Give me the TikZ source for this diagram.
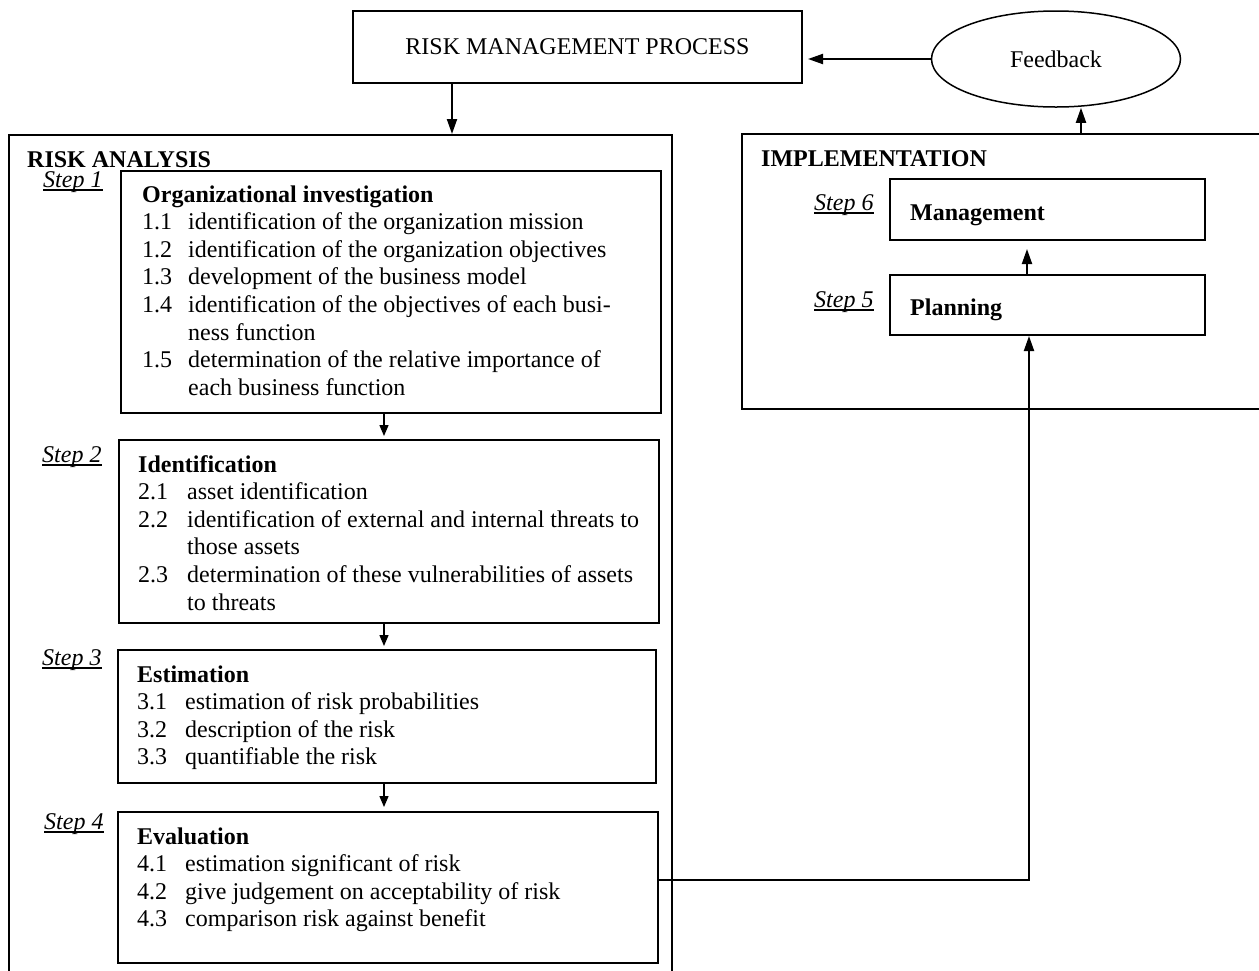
\documentclass[tikz,border=0pt]{standalone}
\usepackage{fontspec}
\setmainfont{Liberation Serif}
\usetikzlibrary{arrows.meta,shapes.geometric,calc}
\begin{document}
\begin{tikzpicture}[x=1pt,y=-1pt,
  box/.style={draw,line width=2pt,rectangle,inner sep=0pt,anchor=north west},
  frame/.style={draw,line width=1.5pt,rectangle,inner sep=0pt,anchor=north west},
  txt/.style={inner sep=0pt,anchor=base west,font=\fontsize{24}{27.6}\selectfont},
  hd/.style={inner sep=0pt,anchor=base west,font=\fontsize{24}{27.6}\selectfont\bfseries},
  stp/.style={inner sep=0pt,anchor=base west,font=\fontsize{24}{27.6}\selectfont\itshape},
  uline/.style={line width=1.3pt},
  arr/.style={line width=2pt,-{Triangle[length=15pt,width=10pt]}},
  sarr/.style={line width=1.3pt,-{Triangle[length=11pt,width=9pt]}},
]
\useasboundingbox (0,0) rectangle (1259,970);
\clip (0,0) rectangle (1259,970);

% top
\node[draw,line width=2pt,rectangle,inner sep=0pt,minimum width=449pt,minimum height=72pt,
      font=\fontsize{24}{27.6}\selectfont] (rmp) at (577.5,47) {RISK MANAGEMENT PROCESS};
\node[draw,line width=1.5pt,ellipse,inner sep=0pt,minimum width=249pt,minimum height=96pt,
      font=\fontsize{24}{27.6}\selectfont] (fb) at (1056,59) {Feedback};

% frames
\node[frame,minimum width=663pt,minimum height=900pt] (ra) at (8,134) {};
\node[hd] (ral) at (27,167) {RISK ANALYSIS};
\node[frame,minimum width=540pt,minimum height=275pt] (impl) at (741,133) {};
\node[hd] (implt) at (761,166) {IMPLEMENTATION};

% step boxes
\node[box,minimum width=540pt,minimum height=242pt] (b1) at (120,170) {};
\node[box,minimum width=540pt,minimum height=183pt] (b2) at (118,439) {};
\node[box,minimum width=538pt,minimum height=133pt] (b3) at (117,649) {};
\node[box,minimum width=540pt,minimum height=151pt] (b4) at (117,811) {};
\node[box,minimum width=315pt,minimum height=61pt] (mgmt) at (889,178) {};
\node[box,minimum width=315pt,minimum height=60pt] (plan) at (889,274) {};

% box 1 text
\node[hd]  (h1)  at (142,202)   {Organizational investigation};
\node[txt] (l11) at (142,229.6) {\makebox[46pt][l]{1.1}identification of the organization mission};
\node[txt] (l12) at (142,257.2) {\makebox[46pt][l]{1.2}identification of the organization objectives};
\node[txt] (l13) at (142,284.8) {\makebox[46pt][l]{1.3}development of the business model};
\node[txt] (l14) at (142,312.4) {\makebox[46pt][l]{1.4}identification of the objectives of each busi-};
\node[txt] (l14b) at (188,340)  {ness function};
\node[txt] (l15) at (142,367.6) {\makebox[46pt][l]{1.5}determination of the relative importance of};
\node[txt] (l15b) at (188,395.2) {each business function};

% box 2 text
\node[hd]  (h2)  at (138,472)   {Identification};
\node[txt] (l21) at (138,499.6) {\makebox[49pt][l]{2.1}asset identification};
\node[txt] (l22) at (138,527.2) {\makebox[49pt][l]{2.2}identification of external and internal threats to};
\node[txt] (l22b) at (187,554.8) {those assets};
\node[txt] (l23) at (138,582.4) {\makebox[49pt][l]{2.3}determination of these vulnerabilities of assets};
\node[txt] (l23b) at (187,610)  {to threats};

% box 3 text
\node[hd]  (h3)  at (137,682)   {Estimation};
\node[txt] (l31) at (137,709.6) {\makebox[48pt][l]{3.1}estimation of risk probabilities};
\node[txt] (l32) at (137,737.2) {\makebox[48pt][l]{3.2}description of the risk};
\node[txt] (l33) at (137,764.8) {\makebox[48pt][l]{3.3}quantifiable the risk};

% box 4 text
\node[hd]  (h4)  at (137,844)   {Evaluation};
\node[txt] (l41) at (137,871.6) {\makebox[48pt][l]{4.1}estimation significant of risk};
\node[txt] (l42) at (137,899.2) {\makebox[48pt][l]{4.2}give judgement on acceptability of risk};
\node[txt] (l43) at (137,926.8) {\makebox[48pt][l]{4.3}comparison risk against benefit};

% implementation text
\node[hd] (mgt) at (910,220) {Management};
\node[hd] (plt) at (910,315) {Planning};

% step labels
\node[stp] (s1) at (43,187) {Step 1};
\node[stp] (s2) at (42,462) {Step 2};
\node[stp] (s3) at (42,665) {Step 3};
\node[stp] (s4) at (44,829) {Step 4};
\node[stp] (s6) at (814,210) {Step 6};
\node[stp] (s5) at (814,307) {Step 5};
\foreach \s in {s1,s2,s3,s4,s5,s6}
  \draw[uline] ([yshift=-3pt]\s.base west) -- ([yshift=-3pt]\s.base east);

% connectors
\draw[arr] ([xshift=-125.5pt]rmp.south) -- ([xshift=-125.5pt]rmp.south |- ra.north);
\draw[arr,shorten >=5pt] (fb.west) -- (fb.west -| rmp.east);
\draw[arr] ([xshift=340pt]impl.north west) -- ([xshift=340pt]impl.north west |- fb.south);
\draw[sarr,shorten >=3pt] ([xshift=-7pt]b1.south) -- ([xshift=-7pt]b1.south |- b2.north);
\draw[sarr,shorten >=3pt] ([xshift=-5pt]b2.south) -- ([xshift=-5pt]b2.south |- b3.north);
\draw[sarr,shorten >=4pt] ([xshift=-3pt]b3.south) -- ([xshift=-3pt]b3.south |- b4.north);
\draw[arr] ([yshift=7.5pt]b4.east) -| ([xshift=-18.5pt]plan.south);
\draw[arr,shorten >=8pt] ([xshift=-20.5pt]plan.north) -- ([xshift=-20.5pt]plan.north |- mgmt.south);
\end{tikzpicture}
\end{document}
